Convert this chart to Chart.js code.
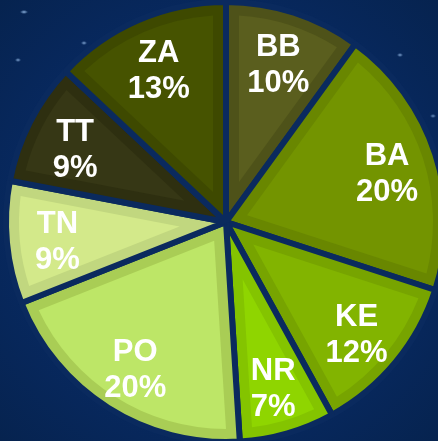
<!DOCTYPE html>
<html>
<head>
<meta charset="utf-8">
<script src="https://cdn.jsdelivr.net/npm/chart.js@4"></script>
<style>
  html, body { margin: 0; padding: 0; overflow: hidden; }
  body {
    width: 438px; height: 441px;
    background:
      radial-gradient(ellipse 4px 2px at 24px 12px, rgba(170,210,255,.8), transparent),
      radial-gradient(ellipse 3px 2px at 84px 43px, rgba(170,210,255,.7), transparent),
      radial-gradient(ellipse 3px 2px at 18px 60px, rgba(170,210,255,.7), transparent),
      radial-gradient(ellipse 3px 2px at 400px 55px, rgba(170,210,255,.7), transparent),
      radial-gradient(ellipse 3px 2px at 433px 116px, rgba(170,210,255,.6), transparent),
      radial-gradient(ellipse 3px 2px at 180px 82px, rgba(170,210,255,.5), transparent),
      radial-gradient(circle at 50% 50%, #0b3070 0%, #082a63 55%, #06234f 100%);
  }
  #wrap { position: absolute; left: 0; top: 0; width: 452px; height: 444px; }
</style>
</head>
<body>
<div id="wrap"><canvas id="pie"></canvas></div>
<script>
// slice data, clockwise from 12 o'clock
const categories = ['BB', 'BA', 'KE', 'NR', 'PO', 'TN', 'TT', 'ZA'];
const shares = [10, 20, 12, 7, 20, 9, 9, 13];
const innerColors = ['#5a5e1e', '#739400', '#82b400', '#8fd500', '#bde667', '#d3e98a', '#363715', '#465300'];
const bandColors  = ['#4e5219', '#698700', '#77a400', '#84c400', '#a9cd55', '#c1d77f', '#2e2f10', '#3e4900'];

const GAP = 6;    // dark gap between slices
const BAND = 10;  // bevel band width

// draws the lighter inner wedge of each slice and the labels
const bevelPlugin = {
    id: 'bevel',
    afterDatasetsDraw(chart) {
        const ctx = chart.ctx;
        const meta = chart.getDatasetMeta(0);
        meta.data.forEach((arc, i) => {
            const { x, y, startAngle, endAngle, outerRadius } = arc.getProps(['x', 'y', 'startAngle', 'endAngle', 'outerRadius'], true);
            const half = (endAngle - startAngle) / 2;
            const mid = startAngle + half;
            const t = GAP / 2 + BAND;
            const d = t / Math.sin(half);
            const px = x + d * Math.cos(mid), py = y + d * Math.sin(mid);
            const rr = outerRadius - t;
            const edge = (a) => {
                const vu = d * Math.cos(a - mid);
                const s = -vu + Math.sqrt(vu * vu - d * d + rr * rr);
                return Math.atan2(py + s * Math.sin(a) - y, px + s * Math.cos(a) - x);
            };
            ctx.save();
            ctx.beginPath();
            ctx.moveTo(px, py);
            ctx.arc(x, y, rr, edge(startAngle), edge(endAngle));
            ctx.closePath();
            ctx.fillStyle = innerColors[i];
            ctx.fill();

            // label
            const lr = outerRadius * 0.77;
            const lx = x + lr * Math.cos(mid), ly = y + lr * Math.sin(mid) + 5;
            ctx.fillStyle = '#ffffff';
            ctx.font = 'bold 31px "Liberation Sans", Arial, sans-serif';
            ctx.textAlign = 'center';
            ctx.textBaseline = 'middle';
            ctx.fillText(categories[i], lx, ly - 18);
            ctx.fillText(shares[i] + '%', lx, ly + 18);
            ctx.restore();
        });
    }
};

new Chart(document.getElementById('pie'), {
    type: 'pie',
    data: {
        labels: categories,
        datasets: [{
            data: shares,
            backgroundColor: bandColors,
            borderColor: '#0a2a5e',
            borderWidth: GAP,
            hoverOffset: 0,
            radius: 220,
        }],
    },
    options: {
        responsive: true, maintainAspectRatio: false,
        animation: false,
        layout: { padding: 0 },
        plugins: { legend: { display: false }, tooltip: { enabled: false } },
        events: [],
    },
    plugins: [bevelPlugin],
});
</script>
</body>
</html>
